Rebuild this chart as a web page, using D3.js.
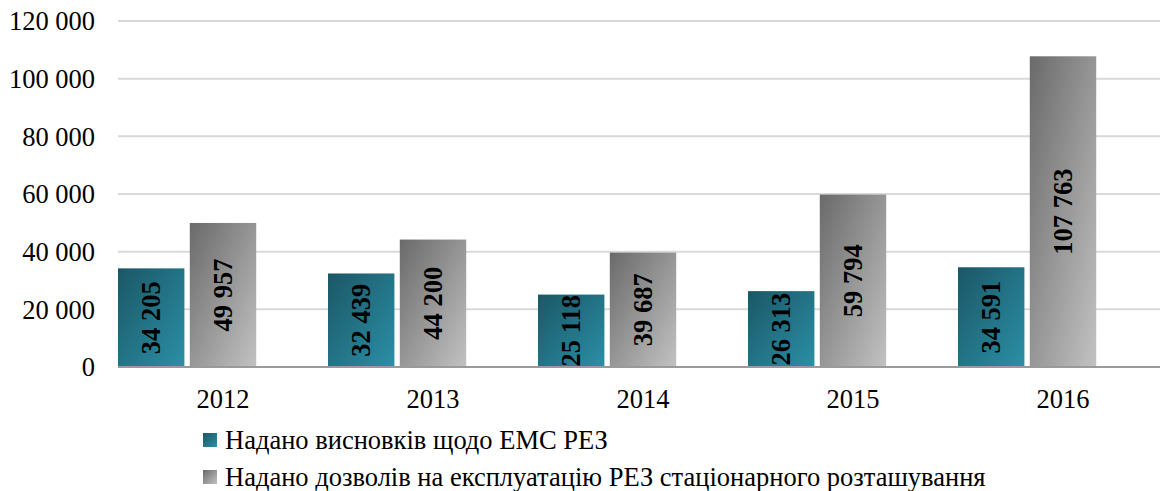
<!DOCTYPE html>
<html>
<head>
<meta charset="utf-8">
<script src="https://cdn.jsdelivr.net/npm/d3@7"></script>
<style>
  body { margin: 0; background: #fff; }
  svg { display: block; font-family: "Liberation Serif", "Times New Roman", serif; }
</style>
</head>
<body>
<svg id="chart"></svg>
<script>
const years = ["2012", "2013", "2014", "2015", "2016"]
const seriesNames = [
	"Надано висновків щодо ЕМС РЕЗ",
	"Надано дозволів на експлуатацію РЕЗ стаціонарного розташування"
]
const conclusions = [34205, 32439, 25118, 26313, 34591]
const permits = [49957, 44200, 39687, 59794, 107763]
const yTicks = [0, 20000, 40000, 60000, 80000, 100000, 120000]

const width = 1160, height = 491
const margin = {top: 21, left: 118, bottom: 124}
const plotRight = 1168
const fontSize = 26.5

const svg = d3.select("#chart")
	.attr("width", width)
	.attr("height", height)

const fmt = d3.formatLocale({decimal: ",", thousands: " ", grouping: [3], currency: ["", ""]}).format(",d")

// gradients
const defs = svg.append("defs")
const grads = [
	{id: "gTeal", from: "#1b5766", to: "#2b8fa6"},
	{id: "gGray", from: "#6a6a6a", to: "#c2c2c2"}
]
grads.forEach(g => {
	const lg = defs.append("linearGradient")
		.attr("id", g.id)
		.attr("x1", "0").attr("y1", "0")
		.attr("x2", "1").attr("y2", "1")
	lg.append("stop").attr("offset", "0%").attr("stop-color", g.from)
	lg.append("stop").attr("offset", "100%").attr("stop-color", g.to)
})

const y = d3.scaleLinear()
	.domain([0, 120000])
	.range([height - margin.bottom, margin.top])

const x0 = d3.scaleBand()
	.domain(years)
	.range([margin.left, plotRight])
	.paddingInner(0)
	.paddingOuter(0)

// third slot stays empty, as in the original chart
const x1 = d3.scaleBand()
	.domain([0, 1, 2])
	.range([0, x0.bandwidth()])
	.paddingInner(0.075)
	.paddingOuter(0)

// gridlines
svg.append("g")
	.selectAll("line")
	.data(yTicks.filter(d => d > 0))
	.join("line")
	.attr("x1", margin.left)
	.attr("x2", width)
	.attr("y1", d => y(d))
	.attr("y2", d => y(d))
	.attr("stroke", "#d9d9d9")
	.attr("stroke-width", 2)

// y labels
svg.append("g")
	.selectAll("text")
	.data(yTicks)
	.join("text")
	.attr("x", 95)
	.attr("y", d => y(d))
	.attr("dy", "0.35em")
	.attr("text-anchor", "end")
	.attr("font-size", fontSize)
	.attr("fill", "#000")
	.text(d => fmt(d))

const seriesVals = [conclusions, permits]
const fills = ["url(#gTeal)", "url(#gGray)"]

const groups = svg.append("g")
	.selectAll("g")
	.data(years)
	.join("g")
	.attr("transform", d => `translate(${x0(d)},0)`)

groups.each(function(yr, i) {
	const g = d3.select(this)
	seriesVals.forEach((vals, s) => {
		const v = vals[i]
		const bx = x1(s), bw = x1.bandwidth()
		g.append("rect")
			.attr("x", bx)
			.attr("y", y(v))
			.attr("width", bw)
			.attr("height", y(0) - y(v))
			.attr("fill", fills[s])
		const cx = bx + bw / 2, cy = (y(v) + y(0)) / 2
		g.append("text")
			.attr("transform", `translate(${cx},${cy}) rotate(-90)`)
			.attr("text-anchor", "middle")
			.attr("dy", "0.35em")
			.attr("font-size", fontSize)
			.attr("font-weight", "bold")
			.attr("fill", "#000")
			.text(fmt(v))
	})
})

// baseline
svg.append("line")
	.attr("x1", margin.left)
	.attr("x2", width)
	.attr("y1", y(0))
	.attr("y2", y(0))
	.attr("stroke", "#9a9a9a")
	.attr("stroke-width", 2)

// x labels
svg.append("g")
	.selectAll("text")
	.data(years)
	.join("text")
	.attr("x", d => x0(d) + x0.bandwidth() / 2)
	.attr("y", 399)
	.attr("dy", "0.35em")
	.attr("text-anchor", "middle")
	.attr("font-size", fontSize)
	.attr("fill", "#000")
	.text(d => d)

// legend
const legend = svg.append("g")
	.selectAll("g")
	.data(seriesNames)
	.join("g")
	.attr("transform", (d, i) => `translate(203,${440 + i * 37})`)
legend.append("rect")
	.attr("x", 0)
	.attr("y", -7)
	.attr("width", 14)
	.attr("height", 14)
	.attr("fill", (d, i) => fills[i])
legend.append("text")
	.attr("x", 22)
	.attr("dy", "0.35em")
	.attr("font-size", fontSize)
	.attr("fill", "#000")
	.text(d => d)
</script>
</body>
</html>
